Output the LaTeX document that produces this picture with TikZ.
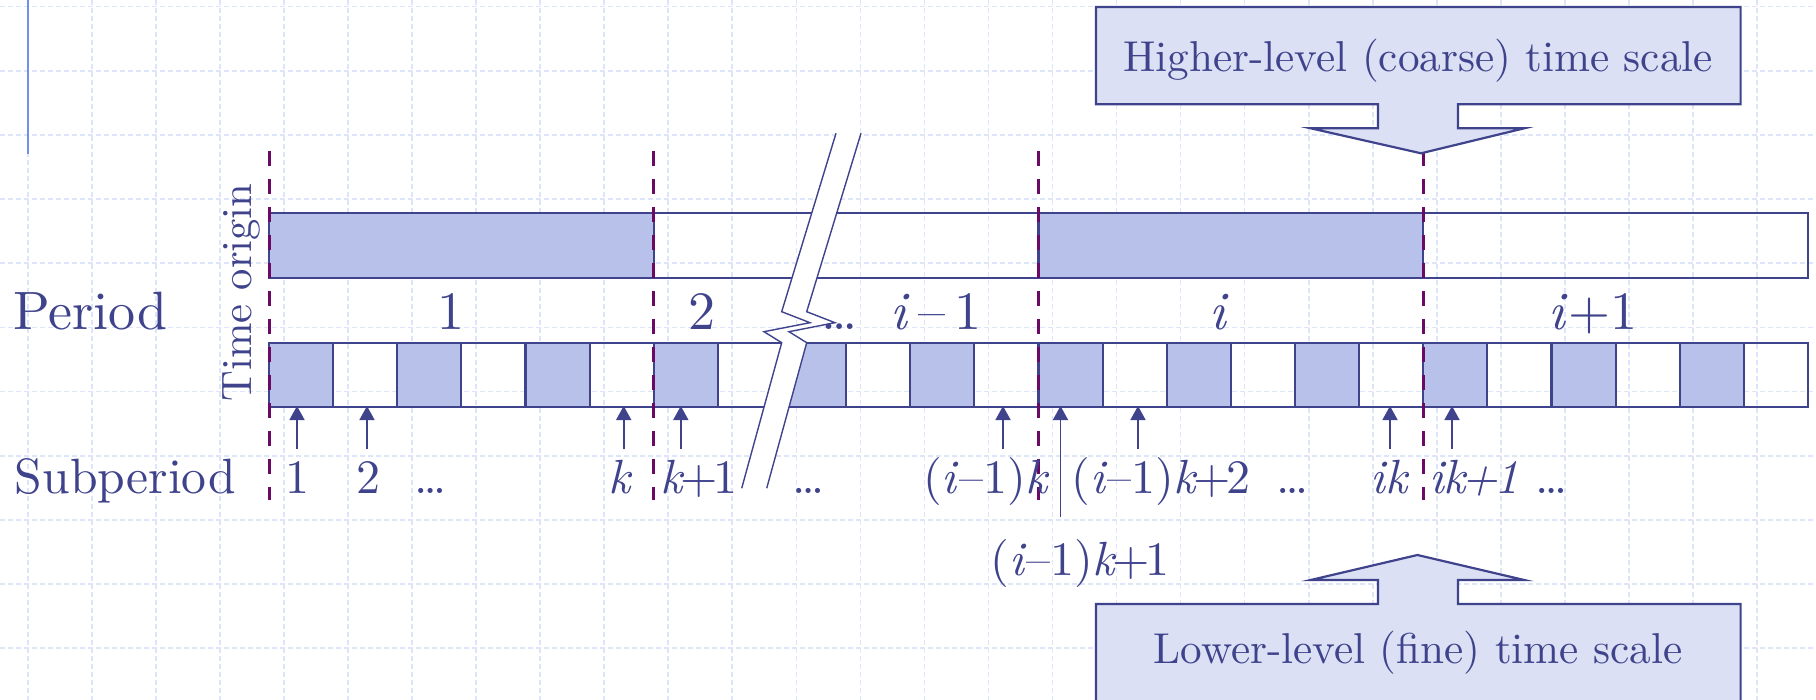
\documentclass[tikz,border=0pt]{standalone}
\usetikzlibrary{arrows.meta}
\definecolor{ink}{HTML}{3F438C}
\definecolor{barfill}{HTML}{B8C1EA}
\definecolor{boxfill}{HTML}{DBE0F4}
\definecolor{cutc}{HTML}{6B0A64}
\definecolor{gridc}{HTML}{DDE5FA}
\definecolor{accent}{HTML}{7090F0}
\newcommand{\pl}{\kern-0.09em+\kern-0.09em}
\tikzset{
  gridline/.style={gridc, line width=0.8pt, dash pattern=on 2.5pt off 1.5pt},
  barline/.style={draw=ink, line width=1.1pt},
  cutline/.style={cutc, line width=1.5pt, dash pattern=on 7.5pt off 6.5pt},
  uparrow/.style={ink, line width=0.8pt, -{Triangle[width=7.5pt,length=7pt]}},
  txt/.style={text=ink, anchor=base, font=\fontsize{10}{12}\selectfont, inner sep=0pt},
  plbl/.style={txt, scale=2.7},
  slbl/.style={txt, scale=2.4},
  callout/.style={draw=ink, fill=boxfill, line width=1.1pt, line join=miter},
  boxtext/.style={txt, scale=2.16},
  breakline/.style={ink, line width=0.7pt},
}
\begin{document}
\begin{tikzpicture}[x=0.5pt,y=-0.5pt]
\useasboundingbox (0,0) rectangle (1816,700);
\fill[white] (0,0) rectangle (1816,700);
% background grid
\foreach \i in {0,...,28} \draw[gridline] ({27.7+64.05*\i},0) -- ({27.7+64.05*\i},700);
\foreach \j in {0,...,10} \draw[gridline] (0,{6.7+64.15*\j}) -- (1816,{6.7+64.15*\j});
\draw[accent, line width=1pt] (27.7,0) -- (27.7,154);

% upper (coarse) bar
\filldraw[barline, fill=barfill] (269,213) rectangle (653.75,278);
\filldraw[barline, fill=barfill] (1038.5,213) rectangle (1423.25,278);
\draw[barline] (269,213) rectangle (1808,278);

% lower (fine) bar
\foreach \i in {0,2,...,22}
  \filldraw[barline, fill=barfill] ({269+64.125*\i},343) rectangle ({269+64.125*(\i+1)},407);
\foreach \i in {1,...,23}
  \draw[barline] ({269+64.125*\i},343) -- ({269+64.125*\i},407);
\draw[barline] (269,343) rectangle (1808,407);

% period boundaries
\foreach \x in {269,653.75,1038.5,1423.25}
  \draw[cutline] (\x,151) -- (\x,500);

% break mark
\fill[white] (836,133.3) -- (781.7,311.7) -- (810,322.7) -- (764,331.7) -- (781.7,342.7) -- (741.7,488.3)
  -- (766.7,488.3) -- (806.7,342.7) -- (789,331.7) -- (835,322.7) -- (806.7,311.7) -- (861,133.3) -- cycle;
\draw[breakline, line join=miter] (836,133.3) -- (781.7,311.7) -- (810,322.7) -- (764,331.7) -- (781.7,342.7) -- (741.7,488.3);
\draw[breakline, line join=miter] (861,133.3) -- (806.7,311.7) -- (835,322.7) -- (789,331.7) -- (806.7,342.7) -- (766.7,488.3);

% callouts
\draw[callout] (1096,7) -- (1740.6,7) -- (1740.6,104.3) -- (1458,104.3) -- (1458,128.3) -- (1524.2,128.3)
  -- (1421,153.3) -- (1310.7,128.3) -- (1378,128.3) -- (1378,104.3) -- (1096,104.3) -- cycle;
\node[boxtext] (hi) at (1418,72) {Higher-level (coarse) time scale};
\draw[callout] (1096,712) -- (1096,604) -- (1378,604) -- (1378,580) -- (1310.7,580) -- (1417.4,555)
  -- (1524.2,580) -- (1458,580) -- (1458,604) -- (1740.6,604) -- (1740.6,712);
\node[boxtext] (lo) at (1418,663) {Lower-level (fine) time scale};

% time origin
\node[txt, scale=2.13, rotate=90] (orig) at (251.7,292.5) {Time origin};

% period labels
\node[plbl, anchor=base west] (lperiod) at (12,329) {Period};
\node[plbl] (p1) at (451,329) {1};
\node[plbl] (p2) at (702,329) {2};
\node[plbl] (pdots) at (840,329) {\dots};
\node[plbl] (pim1) at (936,329) {\textit{i}\,--\,1};
\node[plbl] (pi) at (1219,329) {\textit{i}};
\node[plbl] (pip1) at (1593,329) {\textit{i}\kern0.1em\pl\kern0.1em 1};

% subperiod labels
\node[txt, scale=2.48, anchor=base west] (lsub) at (14,493) {Subperiod};
\node[slbl] (s1) at (297,493) {1};
\node[slbl] (s2) at (368,493) {2};
\node[slbl] (sd1) at (431,493) {\dots};
\node[slbl] (sk) at (620.5,493) {\textit{k}};
\node[slbl] (sk1) at (699,493) {\textit{k}\pl 1};
\node[slbl] (sd2) at (809,493) {\dots};
\node[slbl] (sik) at (986.5,493) {(\textit{i}--1)\textit{k}};
\node[slbl] (sik2) at (1161,493) {(\textit{i}--1)\textit{k}\pl 2};
\node[slbl] (sd3) at (1293,493) {\dots};
\node[slbl] (sikk) at (1390,493) {\textit{ik}};
\node[slbl] (sikk1) at (1474,493) {\textit{ik\pl 1}};
\node[slbl] (sd4) at (1552,493) {\dots};
\node[slbl] (sik1) at (1080,575) {(\textit{i}--1)\textit{k}\pl 1};

% arrows
\foreach \n/\x/\b in {a1/297/449, a2/367/449, a3/623.7/449, a4/680.8/449, a5/1003/449,
                      a6/1060.5/517, a7/1138/449, a8/1390/449, a9/1452/449} {
  \coordinate (\n b) at (\x,\b);
  \coordinate (\n t) at (\x,406);
  \draw[uparrow] (\n b) -- (\n t);
}
\end{tikzpicture}
\end{document}
